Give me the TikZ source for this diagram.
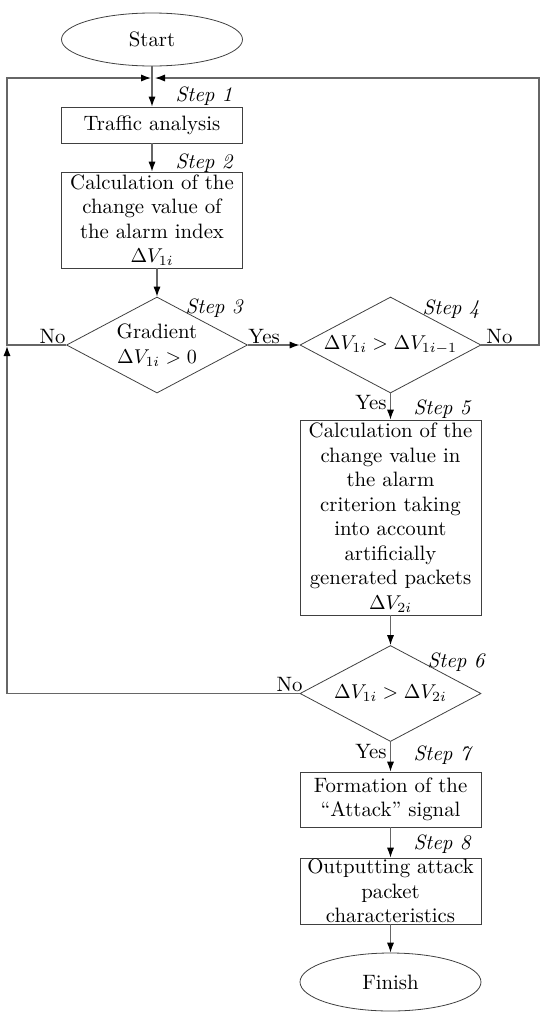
\documentclass[tikz,border=0pt]{standalone}
\usepackage{tikz}
\usetikzlibrary{arrows.meta,positioning,shapes.geometric}

\begin{document}
\begin{tikzpicture}[
    x=0.5pt, y=-0.5pt,
    txt/.style={font=\fontsize{10.4}{12.25}\selectfont},
    block/.style={rectangle, draw=black!75, txt, minimum width=90.5pt, inner sep=0pt, align=center},
    decision/.style={diamond, draw=black!75, txt, minimum width=90.5pt, minimum height=48pt, inner sep=0pt, aspect=1.9, align=center},
    terminal/.style={ellipse, draw=black!75, txt, minimum width=90.5pt, inner sep=0pt},
    steplbl/.style={font=\fontsize{10.4}{12}\selectfont\itshape, inner sep=0pt, anchor=base east},
    lbl/.style={txt, inner sep=0pt},
    line/.style={draw=black!60, line width=0.6pt},
    arr/.style={line, -{Latex[length=5pt, width=3.6pt, black]}},
]
\useasboundingbox (0,0) rectangle (550,1018);

% left column
\node[terminal, minimum height=26.5pt] (start) at (152,39.5) {Start};
\node[block, minimum height=18pt] (b1) at (152,125) {Traffic analysis};
\node[block, minimum height=48pt] (b2) at (152,220) {Calculation of the\\change value of\\the alarm index\\$\Delta V_{1i}$};
\node[decision] (d3) at (157,345) {Gradient\\$\Delta V_{1i} > 0$};

% right column
\node[decision] (d4) at (390.5,345) {$\Delta V_{1i} > \Delta V_{1i-1}$};
\node[block, minimum height=97.5pt] (b5) at (390.5,517.5) {Calculation of the\\change value in\\the alarm\\criterion taking\\into account\\artificially\\generated packets\\$\Delta V_{2i}$};
\node[decision] (d6) at (390.5,693.5) {$\Delta V_{1i} > \Delta V_{2i}$};
\node[block, minimum height=27.5pt] (b7) at (390.5,799.5) {Formation of the\\``Attack'' signal};
\node[block, minimum height=33pt] (b8) at (390.5,891) {Outputting attack\\packet\\characteristics};
\node[terminal, minimum height=29pt] (finish) at (390.5,982) {Finish};

% loop corners
\coordinate (cl) at (7,78);
\coordinate (cr) at (539,78);
\coordinate (jl) at (151,78);
\coordinate (jr) at (155,78);
\coordinate (ml) at (7,346);

% step labels
\node[steplbl] (s1) at (233,101) {Step 1};
\node[steplbl] (s2) at (233,168) {Step 2};
\node[steplbl] (s3) at (243,313) {Step 3};
\node[steplbl] (s4) at (480,314) {Step 4};
\node[steplbl] (s5) at (471,414) {Step 5};
\node[steplbl] (s6) at (485,667) {Step 6};
\node[steplbl] (s7) at (471,760) {Step 7};
\node[steplbl] (s8) at (471,849) {Step 8};

% branch labels
\node[lbl, anchor=base east] (n3) at (66,343) {No};
\node[lbl, anchor=base west] (y3) at (248,343) {Yes};
\node[lbl, anchor=base west] (n4) at (486,343) {No};
\node[lbl, anchor=east] (y4) at (387,403) {Yes};
\node[lbl, anchor=base east] (n6) at (303,691) {No};
\node[lbl, anchor=east] (y6) at (387,752) {Yes};

% connectors
\draw[arr] (start) -- (b1);
\draw[arr] (b1) -- (b2);
\draw[arr] (b2.south -| d3.north) -- (d3.north);
\draw[arr] (d3.east) -- (d4.west);
\draw[arr] (d4.south) -- (b5.north);
\draw[arr] (b5) -- (d6);
\draw[arr] (d6.south) -- (b7.north);
\draw[arr] (b7) -- (b8);
\draw[arr] (b8) -- (finish);
\draw[arr] (d3.west) -| (cl) -- (jl);
\draw[arr] (d4.east) -| (cr) -- (jr);
\draw[arr] (d6.west) -| (ml);

\end{tikzpicture}
\end{document}
